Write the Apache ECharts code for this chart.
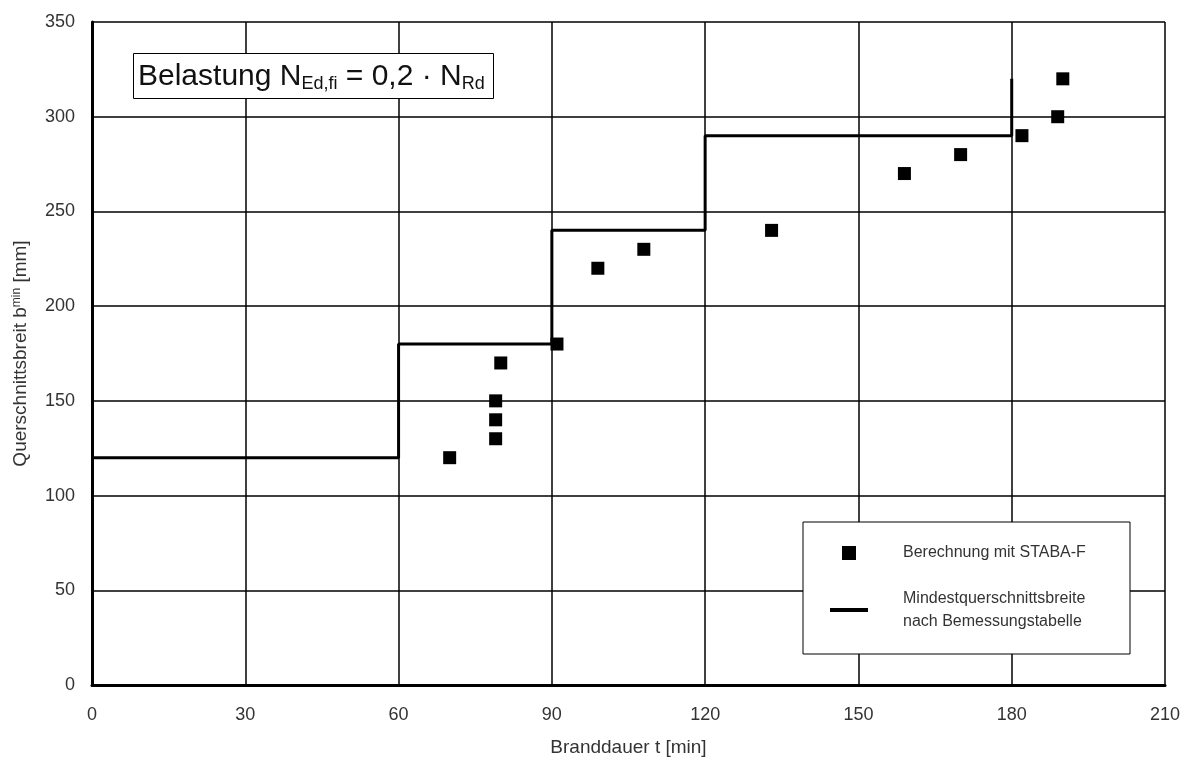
<!DOCTYPE html>
<html>
<head>
<meta charset="utf-8">
<script src="https://cdn.jsdelivr.net/npm/echarts@6/dist/echarts.min.js"></script>
<style>
  html, body { margin: 0; padding: 0; background: #fff; }
  #chart { width: 1191px; height: 765px; }
</style>
</head>
<body>
<div id="chart"></div>
<script>
// Branddauer t [min] / Querschnittsbreite [mm] der STABA-F Berechnungen
const calcT = [70, 79, 79, 79, 80, 91, 99, 108, 133, 159, 170, 182, 189, 190];
const calcB = [120, 130, 140, 150, 170, 180, 220, 230, 240, 270, 280, 290, 300, 320];

// Mindestquerschnittsbreite nach Bemessungstabelle (Stufen)
const tableT = [0, 60, 90, 120, 180];
const tableB = [120, 180, 240, 290, 320];

const xTicks = [0, 30, 60, 90, 120, 150, 180, 210];
const yTicks = [0, 50, 100, 150, 200, 250, 300, 350];

const nameCalc = 'Berechnung mit STABA-F';
const nameTable = 'Mindestquerschnittsbreite\nnach Bemessungstabelle';

const FONT = '"Liberation Sans", Arial, sans-serif';

const chart = echarts.init(document.getElementById('chart'));

const option = {
  animation: false,
  backgroundColor: '#fff',
  textStyle: { fontFamily: FONT },
  grid: { left: 92, right: 26, top: 22, bottom: 80 },
  title: {
    text: 'Belastung N{sub|Ed,fi} = 0,2 · N{sub|Rd}',
    left: 133,
    top: 52,
    padding: [8, 9, 6, 5],
    borderColor: '#000',
    borderWidth: 1,
    backgroundColor: '#fff',
    textStyle: {
      fontFamily: FONT,
      fontSize: 30,
      fontWeight: 'normal',
      color: '#111',
      rich: {
        sub: { fontFamily: FONT, fontSize: 18, color: '#111', padding: [15, 0, 0, 0] }
      }
    }
  },
  graphic: [{
    type: 'rect',
    z: 10,
    shape: { x: 803, y: 522, width: 327, height: 132 },
    style: { fill: '#fff', stroke: '#000', lineWidth: 1 }
  }],
  legend: [
    {
      z: 20,
      left: 842,
      top: 545,
      padding: 0,
      itemWidth: 14,
      itemHeight: 14,
      textStyle: { fontFamily: FONT, fontSize: 16, color: '#333', lineHeight: 16, padding: [0, 0, 0, 42] },
      data: [{ name: nameCalc, icon: 'rect' }]
    },
    {
      z: 20,
      left: 830,
      top: 587,
      padding: 0,
      itemWidth: 38,
      itemHeight: 4,
      textStyle: { fontFamily: FONT, fontSize: 16, color: '#333', lineHeight: 23, padding: [0, 0, 0, 30] },
      data: [{ name: nameTable, icon: 'rect' }]
    }
  ],
  xAxis: {
    type: 'value',
    min: xTicks[0],
    max: xTicks[xTicks.length - 1],
    interval: 30,
    name: 'Branddauer t [min]',
    nameLocation: 'middle',
    nameGap: 53,
    nameTextStyle: { fontFamily: FONT, fontSize: 19, color: '#333' },
    axisLine: { show: true, lineStyle: { color: '#000', width: 3 } },
    axisTick: { show: false },
    axisLabel: { fontFamily: FONT, fontSize: 18, color: '#333', margin: 21 },
    splitLine: { show: true, lineStyle: { color: '#000', width: 1.5 } }
  },
  yAxis: {
    type: 'value',
    min: yTicks[0],
    max: yTicks[yTicks.length - 1],
    interval: 50,
    name: 'Querschnittsbreit b{s|min} [mm]',
    nameLocation: 'middle',
    nameGap: 62,
    nameTextStyle: {
      fontFamily: FONT, fontSize: 19, color: '#333',
      rich: { s: { fontFamily: FONT, fontSize: 12, color: '#333', padding: [0, 0, 7, 0] } }
    },
    axisLine: { show: true, lineStyle: { color: '#000', width: 3 } },
    axisTick: { show: false },
    axisLabel: { fontFamily: FONT, fontSize: 18, color: '#333', margin: 17 },
    splitLine: { show: true, lineStyle: { color: '#000', width: 1.5 } }
  },
  series: [
    {
      name: nameCalc,
      type: 'scatter',
      symbol: 'rect',
      symbolSize: 13,
      itemStyle: { color: '#000', opacity: 1 },
      data: calcT.map((t, i) => [t, calcB[i]]),
      z: 5
    },
    {
      name: nameTable,
      type: 'line',
      step: 'end',
      symbol: 'none',
      showSymbol: false,
      lineStyle: { color: '#000', width: 3 },
      itemStyle: { color: '#000' },
      data: tableT.map((t, i) => [t, tableB[i]]),
      z: 4
    }
  ]
};

chart.setOption(option);
</script>
</body>
</html>
